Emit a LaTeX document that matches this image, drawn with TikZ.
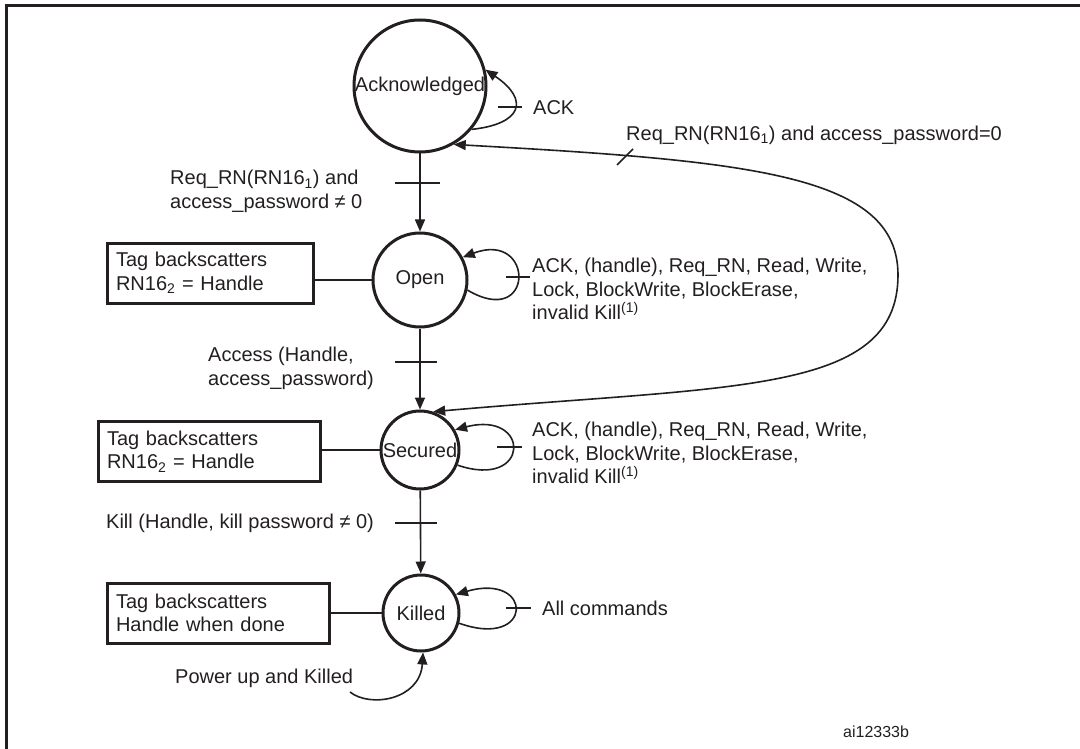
\documentclass[tikz,border=0pt]{standalone}
\usepackage{fontspec}
\setmainfont{Liberation Sans}
\usetikzlibrary{arrows.meta}
\definecolor{ink}{HTML}{231F20}

\begin{document}
\begin{tikzpicture}[x=1pt,y=-1pt,
  font=\fontsize{20}{23.5}\selectfont,
  state/.style={circle, draw=ink, line width=3pt, inner sep=0pt, text=ink},
  notebox/.style={draw=ink, line width=3pt, anchor=west, align=left,
    inner xsep=8.5pt, inner ysep=0pt, minimum height=60pt, text=ink},
  conn/.style={draw=ink, line width=1.6pt},
  tip/.style={Triangle[length=12pt,width=10pt]},
  arr/.style={conn, -{Triangle[length=12pt,width=10pt]}},
  lbl/.style={anchor=west, align=left, inner sep=0pt, text=ink}]
\useasboundingbox (0,0) rectangle (1080,749);

% outer frame
\draw[ink, line width=2.2pt] (6.5,749) -- (6.5,5.5) -- (1080,5.5);

% states
\node[state, minimum size=132pt] (ack)  at (420,86)  {Acknowledged};
\node[state, minimum size=94pt]  (open) at (420,280) {Open};
\node[state, minimum size=78pt]  (sec)  at (420,450) {Secured};
\node[state, minimum size=76pt]  (kil)  at (421,613) {Killed};

% side notes
\node[notebox, text width=189pt] (box1) at (106,273)   {Tag backscatters\\RN16\textsubscript{2} = Handle};
\node[notebox, text width=205pt] (box2) at (97,451.5)  {Tag backscatters\\RN16\textsubscript{2} = Handle};
\node[notebox, text width=205pt] (box3) at (106,613)   {Tag backscatters\\Handle when done};
\draw[conn] (open.west) -- (open.west -| box1.east);
\draw[conn] (sec.west)  -- (sec.west -| box2.east);
\draw[conn] (kil.west)  -- (kil.west -| box3.east);

% main transitions
\draw[arr] (ack) -- (open);
\draw[arr] (open) -- (sec);
\draw[arr] (sec) -- (kil);
\coordinate (t1) at (420,183);
\coordinate (t2) at (420,362);
\coordinate (t3) at (420,523);
\draw[conn] ([xshift=-25pt]t1) -- ([xshift=20pt]t1);
\draw[conn] ([xshift=-25pt]t2) -- ([xshift=17pt]t2);
\draw[conn] ([xshift=-25pt]t3) -- ([xshift=17pt]t3);

% self loops
\draw[arr] (ack.-40) .. controls (522,124) and (530,100) .. (ack.14);
\draw[arr] (open.-12) .. controls (535,330) and (535,230) .. (open.28);
\draw[arr] (sec.-22) .. controls (531,490) and (531,410) .. (sec.30);
\draw[arr] (kil.-15) .. controls (534,650) and (534,572) .. (kil.28);
\coordinate (l1) at (511,107);
\coordinate (l2) at (520,277);
\coordinate (l3) at (512,447);
\coordinate (l4) at (516,608);
\draw[conn] ([xshift=-13pt]l1) -- ([xshift=11pt]l1);
\draw[conn] ([xshift=-14pt]l2) -- ([xshift=10pt]l2);
\draw[conn] ([xshift=-15pt]l3) -- ([xshift=10pt]l3);
\draw[conn] ([xshift=-10pt]l4) -- ([xshift=15pt]l4);

% Acknowledged <-> Secured
\coordinate (bend) at (898,275);
\draw[conn, {Triangle[length=12pt,width=10pt]}-{Triangle[length=12pt,width=10pt]}]
  (ack.-60) .. controls (753,161) and (898,175) .. (bend)
            .. controls (898,395) and (733,385) .. (sec.71);
\coordinate (t4) at (625,157);
\draw[conn] ([shift={(-8pt,-8pt)}]t4) -- ([shift={(8pt,8pt)}]t4);

% power-up entry
\coordinate (pw) at (350,692);
\draw[arr] (pw) .. controls (370,708) and (420,700) .. (kil.-87);

% labels
\node[lbl] at (170,191.5) {Req\_RN(RN16\textsubscript{1}) and\\access\_password ≠ 0};
\node[lbl] at (208,368.5) {Access (Handle,\\access\_password)};
\node[lbl] at (106,523) {Kill (Handle, kill password ≠ 0)};
\node[lbl] at (175,678) {Power up and Killed};
\node[lbl] at (533,108) {ACK};
\node[lbl] at (626,135) {Req\_RN(RN16\textsubscript{1}) and access\_password=0};
\node[lbl] at (532,289) {ACK, (handle), Req\_RN, Read, Write,\\Lock, BlockWrite, BlockErase,\\invalid Kill\textsuperscript{(1)}};
\node[lbl] at (532,453) {ACK, (handle), Req\_RN, Read, Write,\\Lock, BlockWrite, BlockErase,\\invalid Kill\textsuperscript{(1)}};
\node[lbl] at (542,608) {All commands};
\node[lbl, font=\fontsize{16}{19}\selectfont] at (843,732) {ai12333b};
\end{tikzpicture}
\end{document}
